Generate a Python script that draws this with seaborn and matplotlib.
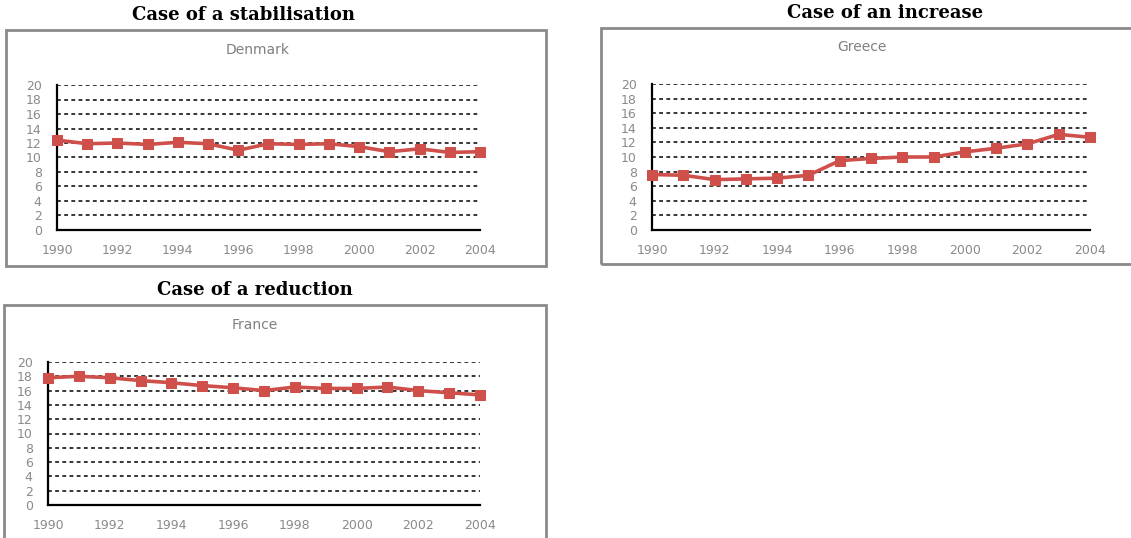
import matplotlib
matplotlib.use("Agg")
import matplotlib.pyplot as plt
import seaborn as sns
import pandas as pd
from matplotlib.patches import Rectangle

years = list(range(1990, 2005))
denmark = [12.4, 11.9, 12.0, 11.8, 12.1, 11.9, 11.0, 11.9, 11.8, 11.9, 11.5, 10.8, 11.2, 10.7, 10.8]
greece = [7.6, 7.5, 6.9, 7.0, 7.1, 7.5, 9.5, 9.8, 10.0, 10.0, 10.7, 11.2, 11.8, 13.1, 12.7]
france = [17.8, 18.0, 17.8, 17.4, 17.1, 16.7, 16.4, 16.0, 16.5, 16.3, 16.3, 16.5, 16.0, 15.7, 15.4]
case_titles = ["Case of a stabilisation", "Case of an increase", "Case of a reduction"]
countries = ["Denmark", "Greece", "France"]
yticks = list(range(0, 21, 2))
xticks = list(range(1990, 2005, 2))

sns.set_style("white")
plt.rcParams['font.family'] = ['DejaVu Sans']

W, H = 1131, 538
fig = plt.figure(figsize=(W / 100, H / 100), dpi=100)

def fx(x):
    return x / W

def fy(y):
    return 1 - y / H

line_color = "#cf4f4b"

panels = [
    dict(frame=(6, 30, 546, 266), axes=(57, 85, 480, 230), case=(243, 15), ctitle=(258, 50), values=denmark),
    dict(frame=(601, 28, 1135, 264), axes=(652, 84, 1090, 230), case=(885, 13), ctitle=(862, 47), values=greece),
    dict(frame=(4, 305, 546, 545), axes=(48, 362, 480, 505), case=(255, 290), ctitle=(255, 325), values=france),
]

for i, p in enumerate(panels):
    x0, y0, x1, y1 = p["frame"]
    fig.patches.append(Rectangle((fx(x0), fy(y1)), fx(x1 - x0), (y1 - y0) / H,
                                 transform=fig.transFigure, fill=False,
                                 edgecolor="#8a8a8a", linewidth=2.0, zorder=0))
    fig.text(fx(p["case"][0]), fy(p["case"][1]), case_titles[i], ha="center", va="center",
             fontsize=13, fontweight="bold", color="black", family=["DejaVu Serif"])
    fig.text(fx(p["ctitle"][0]), fy(p["ctitle"][1]), countries[i], ha="center", va="center",
             fontsize=10, color="#808080")

    l, t, r, b = p["axes"]
    ax = fig.add_axes([fx(l), fy(b), fx(r - l), (b - t) / H])
    ax.set_facecolor("none")
    df = pd.DataFrame({"year": years, "value": p["values"]})
    for yv in yticks[1:]:
        ax.axhline(yv, color="black", linestyle=(0, (2.5, 2.2)), linewidth=1.1, zorder=1)
    sns.lineplot(data=df, x="year", y="value", ax=ax, color=line_color, linewidth=2.6,
                 marker="s", markersize=7.5, markeredgecolor=line_color, clip_on=False, zorder=3)
    ax.set_xlim(1990, 2004)
    ax.set_ylim(0, 20)
    ax.set_xticks(xticks)
    ax.set_xticks(years, minor=True)
    ax.set_yticks(yticks)
    ax.set_xlabel("")
    ax.set_ylabel("")
    for s in ["top", "right"]:
        ax.spines[s].set_visible(False)
    for s in ["left", "bottom"]:
        ax.spines[s].set_color("black")
        ax.spines[s].set_linewidth(1.6)
    ax.tick_params(axis="both", which="both", direction="inout", length=4, width=1.2,
                   color="black", labelcolor="#8a8a8a", labelsize=9)
    ax.tick_params(axis="x", which="major", pad=8)
    ax.tick_params(axis="y", pad=9)
    ax.grid(False)

fig.savefig("out.png", dpi=100)
